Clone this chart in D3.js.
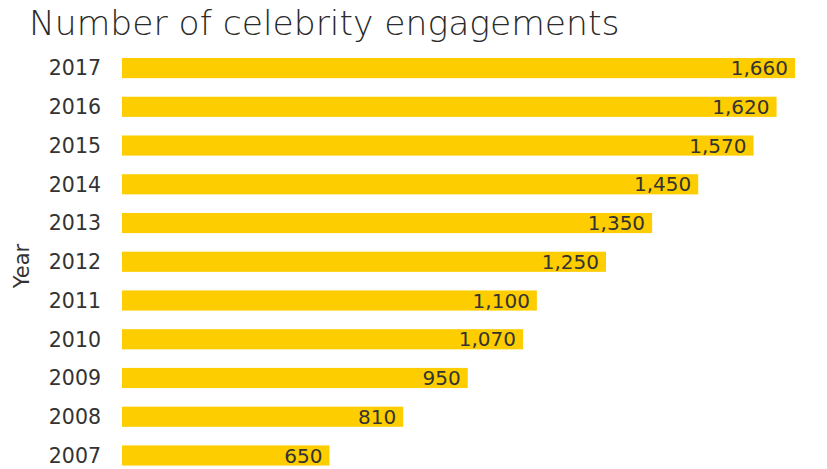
<!DOCTYPE html>
<html>
  <head>
    <meta charset="utf-8">
    <script src="https://cdn.jsdelivr.net/npm/d3@7"></script>
    <title>Number of celebrity engagements</title>
    <style>
      body { margin: 0; background: #fff; }
      text { font-family: "DejaVu Sans", sans-serif; fill: #333; }
    </style>
  </head>
  <body>
    <div id="chart"></div>
    <script>
    var years = ["2017", "2016", "2015", "2014", "2013", "2012", "2011", "2010", "2009", "2008", "2007"];
    var engagements = [1660, 1620, 1570, 1450, 1350, 1250, 1100, 1070, 950, 810, 650];

    var w = 827, h = 469;
    var barLeft = 122, barTop = 58, step = 38.74;

    var svg = d3.select("#chart").append("svg")
        .attr("width", w)
        .attr("height", h);

    // bars in the original don't start from zero
    var x = d3.scaleLinear().domain([200, 1660]).range([barLeft, 795]);
    var y = d3.scaleBand().domain(years)
        .range([barTop - 9.3, barTop - 9.3 + 11 * step])
        .paddingInner(0.48).paddingOuter(0.24);

    var rows = years.map(function(d, i) { return {year: d, value: engagements[i]}; });

    svg.append("text")
      .attr("x", 29)
      .attr("y", 35)
      .style("font-size", "34.5px")
      .style("font-weight", 200)
      .style("fill", "#2a2a2a")
      .text("Number of celebrity engagements");

    svg.selectAll("rect.bar")
      .data(rows)
      .enter().append("rect")
      .attr("class", "bar")
      .attr("x", x(200))
      .attr("y", function(d) { return y(d.year); })
      .attr("width", function(d) { return x(d.value) - x(200); })
      .attr("height", y.bandwidth())
      .style("fill", "#fdcd00");

    svg.selectAll("text.val")
      .data(rows)
      .enter().append("text")
      .attr("class", "val")
      .attr("x", function(d) { return x(d.value) - 7; })
      .attr("y", function(d) { return y(d.year) + y.bandwidth() / 2; })
      .attr("dy", "0.36em")
      .attr("text-anchor", "end")
      .style("font-size", "20px")
      .text(function(d) { return d3.format(",")(d.value); });

    var yAxis = svg.append("g")
      .attr("transform", "translate(101,0)")
      .call(d3.axisLeft(y).tickSize(0).tickPadding(0));
    yAxis.select(".domain").remove();
    yAxis.selectAll("text")
      .attr("dy", "0.36em")
      .style("font-size", "20.5px")
      .style("font-family", "'DejaVu Sans', sans-serif")
      .style("fill", "#333");

    svg.append("text")
      .attr("transform", "translate(29,266) rotate(-90)")
      .attr("text-anchor", "middle")
      .style("font-size", "21px")
      .text("Year");
    </script>
  </body>
</html>
